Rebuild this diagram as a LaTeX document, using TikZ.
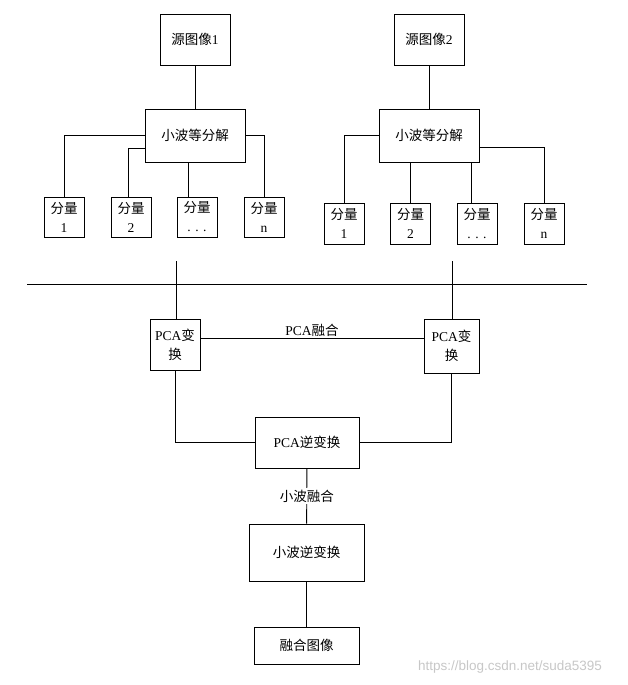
\documentclass[tikz,border=0pt]{standalone}
\usepackage{fontspec}
\setmainfont{Liberation Serif}
\newfontfamily\cjk{Noto Sans CJK SC}
\newfontfamily\wmfont{Liberation Sans}
\usetikzlibrary{calc}
\begin{document}
\begin{tikzpicture}[x=1pt,y=-1pt,
  box/.style={draw,line width=0.9pt,inner sep=0pt,align=center,
    font=\fontsize{13.5}{19}\selectfont},
  wire/.style={line width=0.9pt}]
\useasboundingbox (0,0) rectangle (627,685);
% left tree
\node[box,minimum width=70,minimum height=51] (src1) at (195,39.5) {{\cjk 源图像}1};
\node[box,minimum width=100,minimum height=53] (dec1) at (195,135.5) {\cjk 小波等分解};
\node[box,minimum width=40,minimum height=40] (c11) at (64,217) {{\cjk 分量}\\1};
\node[box,minimum width=40,minimum height=40] (c12) at (131,217) {{\cjk 分量}\\2};
\node[box,minimum width=40,minimum height=40] (c13) at (197,217) {{\cjk 分量}\\. . .};
\node[box,minimum width=40,minimum height=40] (c1n) at (264,217) {{\cjk 分量}\\n};
% right tree
\node[box,minimum width=70,minimum height=51] (src2) at (429,39.5) {{\cjk 源图像}2};
\node[box,minimum width=100,minimum height=53] (dec2) at (429,135.5) {\cjk 小波等分解};
\node[box,minimum width=40,minimum height=41] (c21) at (344,223.5) {{\cjk 分量}\\1};
\node[box,minimum width=40,minimum height=41] (c22) at (410.5,223.5) {{\cjk 分量}\\2};
\node[box,minimum width=40,minimum height=41] (c23) at (477,223.5) {{\cjk 分量}\\. . .};
\node[box,minimum width=40,minimum height=41] (c2n) at (544,223.5) {{\cjk 分量}\\n};
% PCA part
\node[box,minimum width=50,minimum height=51] (pca1) at (175,344.5) {PCA{\cjk 变}\\{\cjk 换}};
\node[box,minimum width=55,minimum height=54] (pca2) at (451.5,346) {PCA{\cjk 变}\\{\cjk 换}};
\node[box,minimum width=104,minimum height=51] (ipca) at (307,442.5) {PCA{\cjk 逆变换}};
\node[box,minimum width=115,minimum height=57] (iwt) at (306.5,552.5) {\cjk 小波逆变换};
\node[box,minimum width=105,minimum height=37] (fus) at (306.5,645.5) {\cjk 融合图像};
\coordinate (hl) at (27,284);
\coordinate (hr) at (587,284);
\coordinate (t1) at (176,261);
\coordinate (t2) at (452,261);
% connectors left tree
\draw[wire] (src1) -- (dec1);
\draw[wire] (dec1.west) -| (c11.north);
\draw[wire] ([yshift=-12.5]dec1.west) -| ([xshift=-3]c12.north);
\draw[wire] ([xshift=-9]c13.north) -- ([xshift=-9]c13.north |- dec1.south);
\draw[wire] (dec1.east) -| (c1n.north);
% connectors right tree
\draw[wire] (src2) -- (dec2);
\draw[wire] (dec2.west) -| (c21.north);
\draw[wire] (c22.north) -- (c22.north |- dec2.south);
\draw[wire] ([xshift=-6]c23.north) -- ([xshift=-6]c23.north |- dec2.south);
\draw[wire] ([yshift=-11.5]dec2.east) -| (c2n.north);
% separator and PCA
\draw[wire] (hl) -- (hr);
\draw[wire] (t1) -- (t1 |- pca1.north);
\draw[wire] (t2) -- (t2 |- pca2.north);
\draw[wire] ([yshift=6.5]pca1.east) -- ([yshift=6.5]pca1.east -| pca2.west)
  node[midway,above,inner sep=1pt,font=\fontsize{13.5}{16}\selectfont] {PCA{\cjk 融合}};
\draw[wire] (pca1.south) |- (ipca.west);
\draw[wire] (pca2.south) |- (ipca.east);
\draw[wire] (ipca) -- (iwt) node[midway,fill=white,inner sep=1.5pt,font=\fontsize{13.5}{16}\selectfont] {\cjk 小波融合};
\draw[wire] (iwt) -- (fus);
\node[text=black!22,font=\wmfont\fontsize{13.5}{16}\selectfont,inner sep=0pt] (wm) at (510,667) {https://blog.csdn.net/suda5395};
\end{tikzpicture}
\end{document}
